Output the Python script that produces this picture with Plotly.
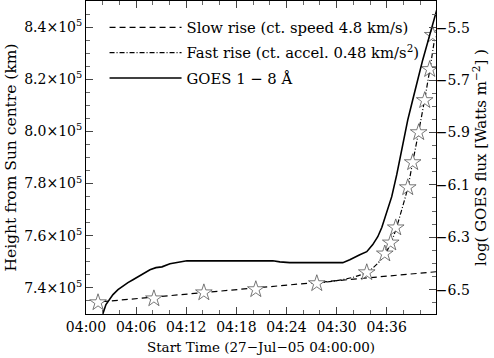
import pandas as pd
import plotly.graph_objects as go

# times are minutes after 04:00 UT on 27-Jul-05
base = pd.Timestamp("2005-07-27 04:00:00")

def to_time(mins):
    return [base + pd.Timedelta(minutes=m) for m in mins]

# observed heights (stars), km
star_t = [1.44, 8.13, 14.11, 20.33, 27.63, 33.61, 35.77, 36.48, 37.08,
          38.52, 39.11, 39.83, 40.55, 41.15, 41.51]
star_h = [7.344e5, 7.359e5, 7.382e5, 7.394e5, 7.417e5, 7.459e5, 7.531e5, 7.573e5, 7.631e5,
          7.785e5, 7.881e5, 7.996e5, 8.119e5, 8.238e5, 8.369e5]

# slow rise fit (straight line)
slow_t = [1.9, 41.9]
slow_h = [7.347e5, 7.462e5]

# fast rise fit (constant acceleration)
fast_t = [27.6, 30.0, 32.0, 33.6, 34.8, 35.8, 36.5, 37.1, 37.8, 38.5, 39.1, 39.8, 40.5, 41.2, 41.9]
fast_h = [7.418e5, 7.428e5, 7.441e5, 7.460e5, 7.490e5, 7.530e5, 7.572e5, 7.625e5, 7.700e5,
          7.782e5, 7.880e5, 7.995e5, 8.115e5, 8.245e5, 8.390e5]

# GOES 1-8 A flux, log10(W m^-2)
goes_t = [1.79, 2.03, 2.39, 2.87, 3.23, 3.83, 4.43, 5.02, 5.62, 6.22, 7.06, 7.66, 8.37,
          9.09, 10.05, 11.24, 12.08, 13.64, 22.37, 23.21, 24.40, 30.74, 31.58, 32.78,
          33.61, 34.33, 34.93, 35.41, 35.89, 36.36, 36.60, 37.20, 37.92, 38.52, 39.11,
          39.71, 40.31, 40.91, 41.39, 41.99]
goes_f = [-6.622, -6.591, -6.557, -6.534, -6.519, -6.500, -6.485, -6.473, -6.462, -6.451,
          -6.435, -6.424, -6.416, -6.413, -6.401, -6.394, -6.390, -6.390, -6.390, -6.394,
          -6.397, -6.397, -6.386, -6.367, -6.355, -6.328, -6.298, -6.263, -6.218, -6.168,
          -6.145, -6.061, -5.940, -5.852, -5.776, -5.696, -5.623, -5.555, -5.497, -5.432]

h_ticks = [7.4e5, 7.6e5, 7.8e5, 8.0e5, 8.2e5, 8.4e5]
h_labels = ["7.4×10<sup>5</sup>", "7.6×10<sup>5</sup>", "7.8×10<sup>5</sup>",
            "8.0×10<sup>5</sup>", "8.2×10<sup>5</sup>", "8.4×10<sup>5</sup>"]
f_ticks = [-6.5, -6.3, -6.1, -5.9, -5.7, -5.5]
f_labels = ["−6.5", "−6.3", "−6.1", "−5.9", "−5.7", "−5.5"]

font = "DejaVu Serif"

fig = go.Figure()
fig.add_trace(go.Scatter(x=to_time(slow_t), y=slow_h, mode="lines",
                         line=dict(color="black", width=1.2, dash="6px,4px"),
                         name="Slow rise (ct. speed 4.8 km/s)", legendgroup="a"))
fig.add_trace(go.Scatter(x=to_time(fast_t), y=fast_h, mode="lines", line_shape="spline",
                         line=dict(color="black", width=1.2, dash="5px,2px,1px,2px"),
                         name="Fast rise (ct. accel. 0.48 km/s<sup>2</sup>)", legendgroup="b"))
fig.add_trace(go.Scatter(x=to_time(goes_t), y=goes_f, mode="lines", yaxis="y2",
                         line=dict(color="black", width=1.6),
                         name="GOES 1 − 8 Å", legendgroup="c"))
fig.add_trace(go.Scatter(x=to_time(star_t), y=star_h, mode="markers", showlegend=False,
                         marker=dict(symbol="star", size=12.5, color="white",
                                     line=dict(color="#555", width=0.8))))

tick_font = dict(family=font, size=14, color="black")
fig.update_layout(
    width=494, height=358,
    margin=dict(l=86, r=58, t=1, b=44),
    plot_bgcolor="white", paper_bgcolor="white",
    font=dict(family=font, size=13, color="black"),
    showlegend=True,
    legend=dict(x=0.053, y=0.967, xanchor="left", yanchor="top",
                bgcolor="rgba(0,0,0,0)", font=dict(family=font, size=14.8),
                tracegroupgap=3, itemwidth=72, traceorder="grouped"),
    xaxis=dict(
        range=[base, base + pd.Timedelta(minutes=41.9)],
        tickformat="%H:%M", tick0=base, dtick=360000,
        ticks="inside", ticklen=7, tickcolor="#444",
        minor=dict(dtick=120000, tick0=base, ticks="inside", ticklen=4, tickcolor="#666"),
        showline=True, linecolor="black", linewidth=1, mirror="ticks",
        showgrid=False, zeroline=False, tickfont=tick_font, automargin=False,
        title=dict(text="Start Time (27−Jul−05 04:00:00)", font=dict(family=font, size=13.5),
                   standoff=8),
    ),
    yaxis=dict(
        range=[7.3e5, 8.5e5], tickvals=h_ticks, ticktext=h_labels,
        ticks="inside", ticklen=7, tickcolor="#444",
        minor=dict(dtick=5000, tick0=7.3e5, ticks="inside", ticklen=4, tickcolor="#666"),
        showline=True, linecolor="black", linewidth=1,
        showgrid=False, zeroline=False, tickfont=tick_font, automargin=False,
        title=dict(text="Height from Sun centre (km)", font=dict(family=font, size=15.5),
                   standoff=3),
    ),
    yaxis2=dict(
        overlaying="y", side="right",
        range=[-6.593, -5.398], tickvals=f_ticks, ticktext=f_labels,
        ticks="inside", ticklen=7, tickcolor="#444",
        minor=dict(dtick=0.05, tick0=-6.6, ticks="inside", ticklen=4, tickcolor="#666"),
        showline=True, linecolor="black", linewidth=1,
        showgrid=False, zeroline=False, tickfont=tick_font, automargin=False,
        ticklabelstandoff=-4,
        title=dict(text="log( GOES flux [Watts m<sup>−2</sup>] )",
                   font=dict(family=font, size=15), standoff=5),
    ),
)

# the page body has a default 8px margin; drop it so the figure sits at the corner
fig.write_html("out.html", config={"displayModeBar": False},
               post_script="document.body.style.margin='0px';")
